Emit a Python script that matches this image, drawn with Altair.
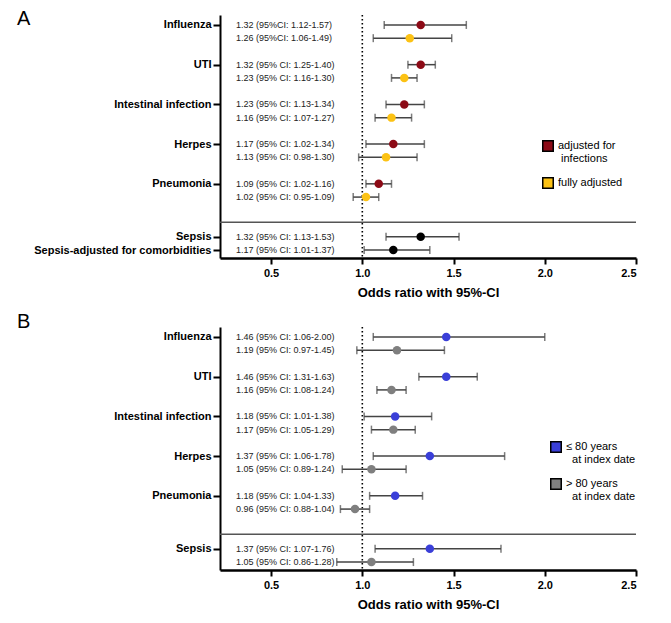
import altair as alt
import pandas as pd

# ---------------- Panel A data ----------------
cats_A = ["Influenza", "UTI", "Intestinal infection", "Herpes", "Pneumonia"]
a_inf_or = [1.32, 1.32, 1.23, 1.17, 1.09]
a_inf_lo = [1.12, 1.25, 1.13, 1.02, 1.02]
a_inf_hi = [1.57, 1.40, 1.34, 1.34, 1.16]
a_inf_txt = ["1.32 (95%CI: 1.12-1.57)", "1.32 (95% CI: 1.25-1.40)", "1.23 (95% CI: 1.13-1.34)",
             "1.17 (95% CI: 1.02-1.34)", "1.09 (95% CI: 1.02-1.16)"]
a_full_or = [1.26, 1.23, 1.16, 1.13, 1.02]
a_full_lo = [1.06, 1.16, 1.07, 0.98, 0.95]
a_full_hi = [1.49, 1.30, 1.27, 1.30, 1.09]
a_full_txt = ["1.26 (95%CI: 1.06-1.49)", "1.23 (95% CI: 1.16-1.30)", "1.16 (95% CI: 1.07-1.27)",
              "1.13 (95% CI: 0.98-1.30)", "1.02 (95% CI: 0.95-1.09)"]
a_sep_cats = ["Sepsis", "Sepsis-adjusted for comorbidities"]
a_sep_or = [1.32, 1.17]
a_sep_lo = [1.13, 1.01]
a_sep_hi = [1.53, 1.37]
a_sep_txt = ["1.32 (95% CI: 1.13-1.53)", "1.17 (95% CI: 1.01-1.37)"]
series_A = ["adjusted for infections", "fully adjusted", "sepsis"]

# ---------------- Panel B data ----------------
cats_B = ["Influenza", "UTI", "Intestinal infection", "Herpes", "Pneumonia", "Sepsis"]
b_young_or = [1.46, 1.46, 1.18, 1.37, 1.18, 1.37]
b_young_lo = [1.06, 1.31, 1.01, 1.06, 1.04, 1.07]
b_young_hi = [2.00, 1.63, 1.38, 1.78, 1.33, 1.76]
b_young_txt = ["1.46 (95% CI: 1.06-2.00)", "1.46 (95% CI: 1.31-1.63)", "1.18 (95% CI: 1.01-1.38)",
               "1.37 (95% CI: 1.06-1.78)", "1.18 (95% CI: 1.04-1.33)", "1.37 (95% CI: 1.07-1.76)"]
b_old_or = [1.19, 1.16, 1.17, 1.05, 0.96, 1.05]
b_old_lo = [0.97, 1.08, 1.05, 0.89, 0.88, 0.86]
b_old_hi = [1.45, 1.24, 1.29, 1.24, 1.04, 1.28]
b_old_txt = ["1.19 (95% CI: 0.97-1.45)", "1.16 (95% CI: 1.08-1.24)", "1.17 (95% CI: 1.05-1.29)",
             "1.05 (95% CI: 0.89-1.24)", "0.96 (95% CI: 0.88-1.04)", "1.05 (95% CI: 0.86-1.28)"]
series_B = ["\u2264 80 years at index date", "> 80 years at index date"]

x_ticks = [0.5, 1.0, 1.5, 2.0, 2.5]

RED, YELLOW, BLACK = "#8c0a16", "#fcc214", "#000000"
BLUE, GRAY = "#3a3fd8", "#7f7f7f"
NARROW = "'Liberation Sans Narrow', 'Arial Narrow', 'Liberation Sans', sans-serif"


def group_row(i):
    # five infection groups of two rows, then sepsis block after separator
    return 3 * i if i < 5 else 16


# ---------- build tables ----------
rows_A = []
for i in range(5):
    rows_A.append(dict(row=group_row(i), OR=a_inf_or[i], lo=a_inf_lo[i], hi=a_inf_hi[i],
                       series=series_A[0], label=a_inf_txt[i]))
    rows_A.append(dict(row=group_row(i) + 1, OR=a_full_or[i], lo=a_full_lo[i], hi=a_full_hi[i],
                       series=series_A[1], label=a_full_txt[i]))
for j in range(2):
    rows_A.append(dict(row=16 + j, OR=a_sep_or[j], lo=a_sep_lo[j], hi=a_sep_hi[j],
                       series=series_A[2], label=a_sep_txt[j]))
df_A = pd.DataFrame(rows_A)
ticks_A = [group_row(i) for i in range(5)] + [16, 17]
names_A = cats_A + a_sep_cats

rows_B = []
for i in range(6):
    rows_B.append(dict(row=group_row(i), OR=b_young_or[i], lo=b_young_lo[i], hi=b_young_hi[i],
                       series=series_B[0], label=b_young_txt[i]))
    rows_B.append(dict(row=group_row(i) + 1, OR=b_old_or[i], lo=b_old_lo[i], hi=b_old_hi[i],
                       series=series_B[1], label=b_old_txt[i]))
df_B = pd.DataFrame(rows_B)
ticks_B = [group_row(i) for i in range(6)]
names_B = cats_B


def label_expr(vals, names):
    expr = "''"
    for v, n in reversed(list(zip(vals, names))):
        expr = f"datum.value == {v} ? '{n}' : ({expr})"
    return expr


def legend_expr(names, pad):
    expr = "datum.label"
    for n in reversed(names):
        if n.startswith("adjusted"):
            first, second = "adjusted for", "infections"
        elif "index date" in n:
            first, second = n.replace(" at index date", ""), "at index date"
        else:
            continue
        expr = f"datum.label == '{n}' ? ['{first}', '\u200b{pad}{second}'] : ({expr})"
    return expr


X_SCALE = alt.Scale(domain=[0.22, 2.5], nice=False, zero=False)
Y_SCALE = alt.Scale(domain=[-0.75, 17.6], nice=False, zero=False, reverse=True)


def panel(df, tick_vals, tick_names, domain, colors, legend_vals, leg_x, leg_y, pad, letter,
          letter_y, sep_y):
    x_axis = alt.Axis(values=x_ticks, format=".1f", grid=False, tickSize=6, tickWidth=2,
                      tickColor="black", domainColor="black", domainWidth=2.5,
                      labelFontSize=11, labelFontWeight="bold", labelColor="black",
                      labelPadding=3, title="Odds ratio with 95%-CI", titleFontSize=13,
                      titleFontWeight="bold", titleColor="black", titlePadding=8,
                      labelFont="Liberation Sans", titleFont="Liberation Sans")
    y_axis = alt.Axis(values=tick_vals, labelExpr=label_expr(tick_vals, tick_names), grid=False,
                      tickSize=7, tickWidth=2, tickColor="black", domainColor="black",
                      domainWidth=2, labelFontSize=11, labelFontWeight="bold",
                      labelColor="black", labelPadding=2, title=None,
                      labelFont="Liberation Sans")
    base = alt.Chart(df)
    y = alt.Y("row:Q", scale=Y_SCALE, axis=y_axis)

    ref = alt.Chart(pd.DataFrame({"v": [1.0]})).mark_rule(
        color="black", strokeWidth=1.6, strokeDash=[1.5, 2.5]
    ).encode(x=alt.X("v:Q", scale=X_SCALE, axis=x_axis))
    sep = alt.Chart(pd.DataFrame({"s": [sep_y]})).mark_rule(
        color="#555555", strokeWidth=1.5
    ).encode(y=alt.Y("s:Q", scale=Y_SCALE, axis=y_axis))
    ci = base.mark_rule(color="#444444", strokeWidth=1.5).encode(
        x=alt.X("lo:Q", scale=X_SCALE, axis=x_axis), x2="hi:Q", y=y)
    cap_lo = base.mark_tick(orient="vertical", size=8, thickness=1.5, color="#444444").encode(
        x=alt.X("lo:Q", scale=X_SCALE, axis=x_axis), y=y)
    cap_hi = base.mark_tick(orient="vertical", size=8, thickness=1.5, color="#444444").encode(
        x=alt.X("hi:Q", scale=X_SCALE, axis=x_axis), y=y)
    pts = base.mark_point(filled=True, shape="circle", size=72, opacity=1).encode(
        x=alt.X("OR:Q", scale=X_SCALE, axis=x_axis), y=y,
        color=alt.Color("series:N", scale=alt.Scale(domain=domain, range=colors),
                        legend=alt.Legend(orient="none", legendX=leg_x, legendY=leg_y, title=None,
                                          values=legend_vals, symbolType="square",
                                          symbolSize=110, symbolStrokeColor="black",
                                          symbolStrokeWidth=1.5, labelFontSize=11,
                                          labelFont="Liberation Sans", labelColor="black",
                                          labelExpr=legend_expr(legend_vals, pad),
                                          rowPadding=10, labelLimit=200)))
    txt = base.mark_text(align="left", baseline="middle", font=NARROW, fontSize=9,
                         color="#222222").encode(x=alt.value(16), y=y, text="label:N")
    let = alt.Chart(pd.DataFrame({"t": [letter]})).mark_text(
        align="left", baseline="top", fontSize=20, font="Liberation Sans", color="black"
    ).encode(x=alt.value(-203), y=alt.value(letter_y), text="t:N")
    return alt.layer(ref, sep, ci, cap_lo, cap_hi, pts, txt, let).properties(width=416, height=243)


pA = panel(df_A, ticks_A, names_A, series_A, [RED, YELLOW, BLACK], series_A[:2], 322, 125,
           "\u00a0", "A", -6, 14.9)
pB = panel(df_B, ticks_B, names_B, series_B, [BLUE, GRAY], series_B, 330, 114,
           "\u00a0\u00a0", "B", -15, 14.9)

chart = alt.vconcat(pA, pB, spacing=13).resolve_scale(color="independent").properties(
    padding={"top": 1, "left": 9, "right": 5, "bottom": 5}
).configure_view(stroke=None)

chart.save("out.html", embed_options={"renderer": "svg", "actions": False})
